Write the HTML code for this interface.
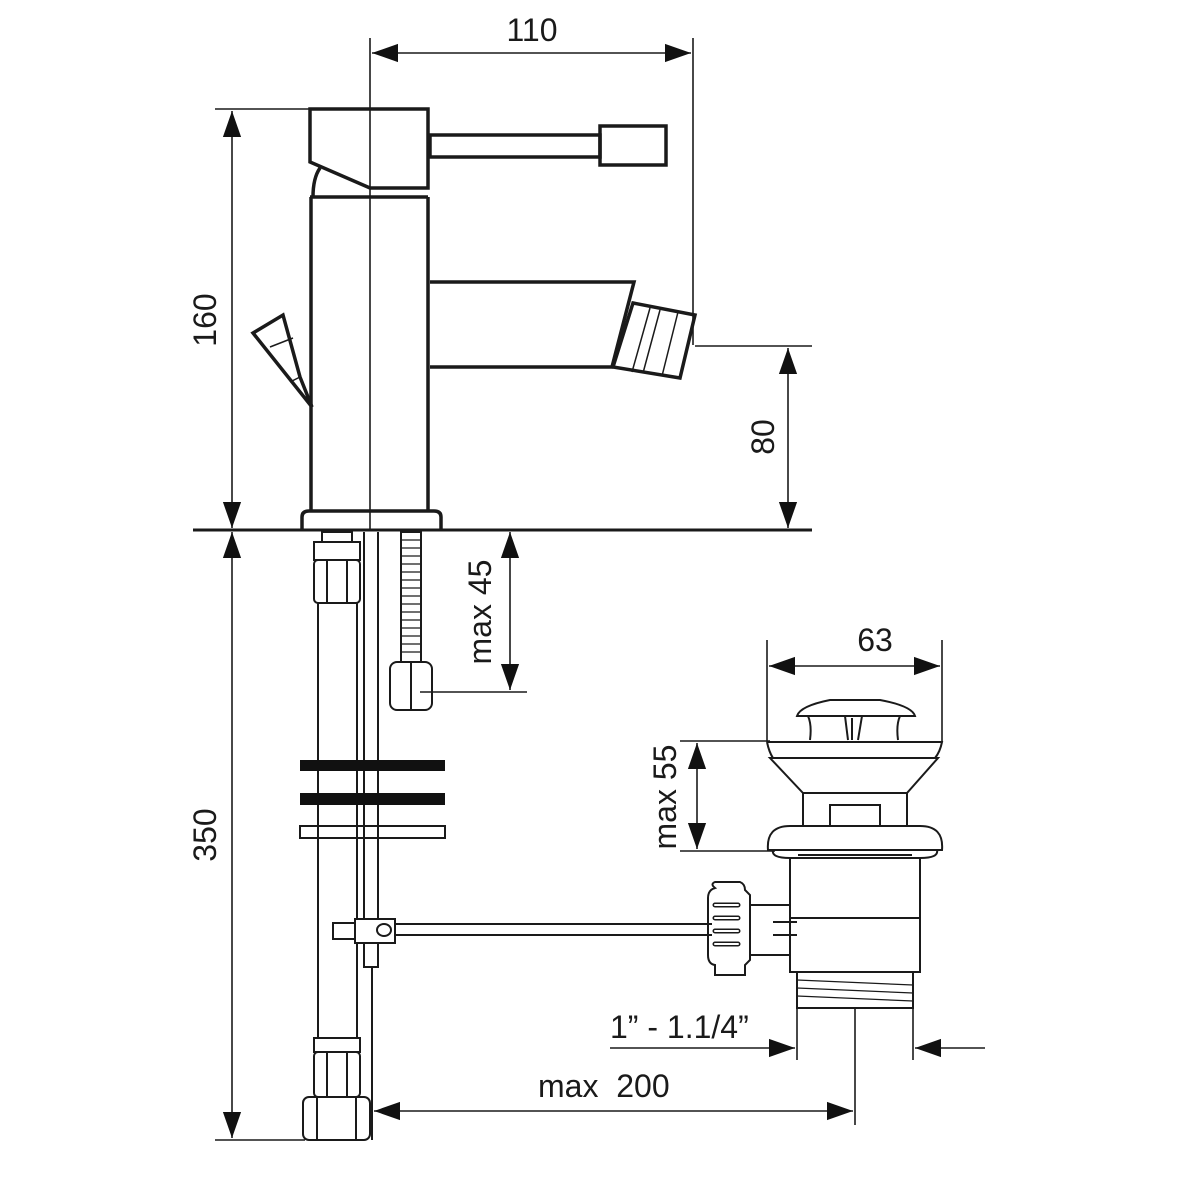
<!DOCTYPE html>
<html><head><meta charset="utf-8"><style>html,body{margin:0;padding:0;background:#fff}svg{display:block}</style></head>
<body>
<svg width="1200" height="1200" viewBox="0 0 1200 1200" xmlns="http://www.w3.org/2000/svg" font-family="Liberation Sans, sans-serif" fill="none" stroke="#1a1a1a">
<defs>
<marker id="a" viewBox="0 0 10 10" refX="10" refY="5" markerWidth="26" markerHeight="26" markerUnits="userSpaceOnUse" orient="auto-start-reverse"><path d="M0,1.5 L10,5 L0,8.5 Z" fill="#111" stroke="none"/></marker>
</defs>
<g stroke-width="1.6">
<line x1="370" y1="38" x2="370" y2="530"/>
<line x1="693" y1="38" x2="693" y2="345"/>
<line x1="372" y1="53" x2="691" y2="53" marker-start="url(#a)" marker-end="url(#a)"/>
<line x1="215" y1="109" x2="310" y2="109"/>
<line x1="232" y1="111" x2="232" y2="528" marker-start="url(#a)" marker-end="url(#a)"/>
<line x1="232" y1="532" x2="232" y2="1138" marker-start="url(#a)" marker-end="url(#a)"/>
<line x1="215" y1="1140" x2="305" y2="1140"/>
<line x1="695" y1="346" x2="812" y2="346"/>
<line x1="788" y1="348" x2="788" y2="528" marker-start="url(#a)" marker-end="url(#a)"/>
<line x1="420" y1="692" x2="527" y2="692"/>
<line x1="510" y1="532" x2="510" y2="690" marker-start="url(#a)" marker-end="url(#a)"/>
<line x1="767" y1="640" x2="767" y2="742"/>
<line x1="942" y1="640" x2="942" y2="742"/>
<line x1="769" y1="666" x2="940" y2="666" marker-start="url(#a)" marker-end="url(#a)"/>
<line x1="680" y1="741" x2="770" y2="741"/>
<line x1="680" y1="851" x2="775" y2="851"/>
<line x1="697" y1="743" x2="697" y2="849" marker-start="url(#a)" marker-end="url(#a)"/>
<line x1="610" y1="1048" x2="795" y2="1048" marker-end="url(#a)"/>
<line x1="985" y1="1048" x2="915" y2="1048" marker-end="url(#a)"/>
<line x1="797" y1="1008" x2="797" y2="1060"/>
<line x1="913" y1="1008" x2="913" y2="1060"/>
<line x1="855" y1="1008" x2="855" y2="1125"/>
<line x1="374" y1="1111" x2="853" y2="1111" marker-start="url(#a)" marker-end="url(#a)"/>
</g>
<line x1="193" y1="530" x2="812" y2="530" stroke-width="3"/>
<g stroke-width="3.5">
<path d="M310,162 L310,109 L428,109 L428,188 L370,188 Z"/>
<path d="M310,197 L428,197"/>
<path d="M313,197 Q313,178 320,168"/>
<path d="M311,197 L311,511 M428,197 L428,511"/>
<path d="M302,530 L302,517 Q302,511 309,511 L434,511 Q441,511 441,517 L441,530"/>
<rect x="430" y="135" width="170" height="22"/>
<rect x="600" y="126" width="66" height="39"/>
<path d="M430,282 L634,282 L612,367 L430,367"/>
<path d="M633,303 L695,315 L680,378 L613,367 Z"/>
<path d="M253,333 L283,315 L300,377 L312,407 Z"/>
</g>
<g stroke-width="1.5">
<path d="M650,308 L632,372 M660,310 L643,373 M678,312 L662,376"/>
<line x1="270" y1="347" x2="293" y2="338"/>
<line x1="300" y1="377" x2="290" y2="382"/>
</g>
<g fill="#1a1a1a" stroke="none" font-size="32">
<text x="532" y="41" text-anchor="middle">110</text>
<text x="875" y="651" text-anchor="middle">63</text>
<text transform="translate(216,320) rotate(-90)" text-anchor="middle">160</text>
<text transform="translate(216,835) rotate(-90)" text-anchor="middle">350</text>
<text transform="translate(774,437) rotate(-90)" text-anchor="middle">80</text>
<text transform="translate(491,612) rotate(-90)" text-anchor="middle">max 45</text>
<text transform="translate(676,797) rotate(-90)" text-anchor="middle">max 55</text>
<text x="610" y="1038">1” - 1.1/4”</text>
<text x="538" y="1097" xml:space="preserve">max  200</text>
</g>
<g stroke-width="2">
<rect x="318" y="603" width="39" height="435"/>
<rect x="322" y="532" width="30" height="10"/>
<rect x="314" y="542" width="46" height="18"/>
<rect x="314" y="560" width="46" height="43" rx="4"/>
<path d="M327,560 V603 M347,560 V603"/>
<rect x="314" y="1038" width="46" height="14"/>
<rect x="314" y="1052" width="46" height="45" rx="4"/>
<path d="M327,1052 V1097 M347,1052 V1097"/>
<rect x="303" y="1097" width="67" height="43" rx="6"/>
<path d="M317,1097 V1140 M356,1097 V1140"/>
<path d="M364,532 V967 H378 V532"/>
<line x1="372" y1="967" x2="372" y2="1140"/>
<rect x="401" y="532" width="20" height="130"/>
<path d="M401,540 H421 M401,548 H421 M401,556 H421 M401,564 H421 M401,572 H421 M401,580 H421 M401,588 H421 M401,596 H421 M401,604 H421 M401,612 H421 M401,620 H421 M401,628 H421 M401,636 H421 M401,644 H421 M401,652 H421" stroke-width="1.2"/>
<rect x="390" y="662" width="42" height="48" rx="7"/>
<line x1="411" y1="662" x2="411" y2="710"/>
<rect x="300" y="826" width="145" height="12"/>
<rect x="355" y="919" width="40" height="24" fill="#fff"/>
<rect x="333" y="923" width="22" height="16"/>
<ellipse cx="384" cy="930" rx="7" ry="6"/>
<path d="M395,924 H712 M395,935 H712"/>
</g>
<rect x="300" y="760" width="145" height="11" fill="#111" stroke="none"/>
<rect x="300" y="793" width="145" height="12" fill="#111" stroke="none"/>
<g stroke-width="2">
<path d="M797,716 Q800,706 830,700 L880,700 Q912,706 915,716 Z"/>
<path d="M808,716 Q812,725 810,740 M900,716 Q896,725 898,740"/>
<path d="M845,716 L848,740 M862,716 L858,740 M852,718 V740"/>
<path d="M767,742 H942 Q940,752 935,758 H773 Q769,752 767,742"/>
<path d="M770,758 H938 L907,793 H803 Z"/>
<path d="M803,793 V826 M907,793 V826"/>
<rect x="830" y="805" width="50" height="21"/>
<path d="M768,850 Q766,826 790,826 H920 Q944,826 942,850 Z"/>
<path d="M773,850 Q771,858 790,858 H920 Q939,858 937,850"/>
<path d="M798,855 H912"/>
<path d="M790,858 V972 H920 V858"/>
<line x1="790" y1="918" x2="920" y2="918"/>
<rect x="797" y="972" width="116" height="36"/>
<path d="M797,980 L913,985 M797,988 L913,993 M797,996 L913,1001" stroke-width="1.3"/>
<path d="M715,888 Q710,884 715,882 H740 Q745,884 745,890 L750,895 V960 L745,965 V975 H715 V965 Q708,964 708,955 V898 Q708,890 715,888 Z"/>
<path d="M715,905 H738 M715,918 H738 M715,931 H738 M715,944 H738" stroke-width="5" stroke-linecap="round"/>
<path d="M715,905 H738 M715,918 H738 M715,931 H738 M715,944 H738" stroke="#fff" stroke-width="2" stroke-linecap="round"/>
<rect x="750" y="905" width="40" height="50"/>
<path d="M773,922 H797 M773,935 H797"/>
</g>
</svg>
</body></html>
